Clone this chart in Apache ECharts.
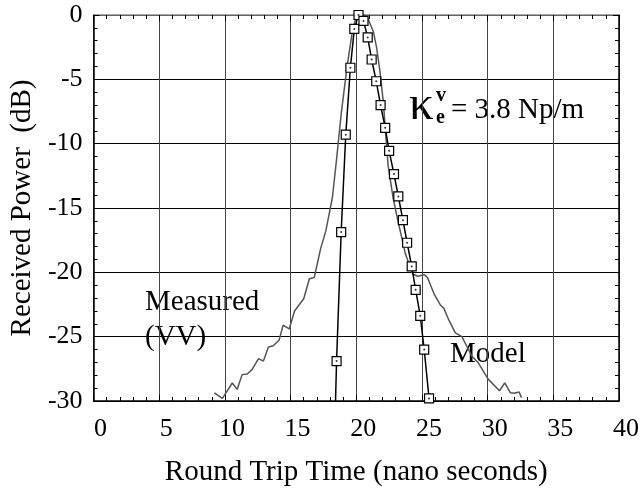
<!DOCTYPE html>
<html>
<head>
<meta charset="utf-8">
<script src="https://cdn.jsdelivr.net/npm/echarts@6/dist/echarts.min.js"></script>
<style>
html,body{margin:0;padding:0;background:#fff;}
#chart{width:642px;height:492px;}
</style>
</head>
<body>
<div id="chart"></div>
<script>
// ---- data ----
var xTicks = [0, 5, 10, 15, 20, 25, 30, 35, 40];
var yTicks = [0, -5, -10, -15, -20, -25, -30];
var xTitle = 'Round Trip Time (nano seconds)';
var yTitle = 'Received Power  (dB)';

// Measured (VV): [time ns, power dB]
var measuredT = [9.19, 9.81, 10.56, 10.93, 11.31, 11.7, 12.06, 12.56, 12.93, 13.31, 13.68, 14.13, 14.43, 14.9, 15.3, 16.0, 16.43, 16.8, 17.3, 17.68, 18.18, 18.5, 18.85, 19.3, 19.7, 19.95, 20.2, 20.6, 20.85, 21.3, 21.55, 21.8, 22.05, 22.42, 22.8, 23.17, 23.75, 24.3, 24.67, 25.17, 25.42, 25.92, 26.42, 26.67, 27.04, 27.54, 28.04, 28.79, 29.3, 30.04, 30.9, 31.3, 31.74, 32.03, 32.4, 32.58];
var measuredP = [-29.36, -29.8, -28.6, -29.1, -27.95, -27.9, -27.56, -26.7, -26.9, -25.8, -25.7, -25.26, -24.1, -24.4, -23.0, -22.05, -20.5, -20.4, -18.1, -16.8, -14.2, -11.2, -7.7, -4.0, -1.3, -0.3, 0, 0, -0.2, -1.28, -2.56, -4.36, -6.67, -11.67, -14.2, -16.0, -18.6, -20.13, -20.3, -20.18, -20.4, -21.67, -22.56, -22.8, -23.7, -24.7, -25.0, -26.5, -27.05, -28.3, -29.2, -28.6, -29.36, -29.4, -29.3, -29.74];

// Model: [time ns, power dB]; first point is the line end at the axis (no marker)
var modelT = [18.42, 18.5, 18.85, 19.2, 19.55, 19.85, 20.17, 20.55, 20.87, 21.17, 21.52, 21.85, 22.2, 22.5, 22.87, 23.2, 23.55, 23.87, 24.22, 24.52, 24.87, 25.17, 25.54];
var modelP = [-30, -26.9, -16.87, -9.3, -4.1, -1.08, 0, -0.46, -1.74, -3.46, -5.15, -7.0, -8.77, -10.56, -12.36, -14.1, -15.95, -17.7, -19.54, -21.36, -23.38, -26.0, -29.8];
var modelMarked = [false, true, true, true, true, true, true, true, true, true, true, true, true, true, true, true, true, true, true, true, true, true, true];

// ---- build ----
var FONT = 'Liberation Serif';
var measured = measuredT.map(function (t, i) { return [t, measuredP[i]]; });
var model = modelT.map(function (t, i) {
  return modelMarked[i] ? { value: [t, modelP[i]] } : { value: [t, modelP[i]], symbol: 'none' };
});
var modelDots = [];
modelT.forEach(function (t, i) { if (modelMarked[i]) modelDots.push([t, modelP[i]]); });

var chart = echarts.init(document.getElementById('chart'), null, { renderer: 'canvas' });

function baseAxis(extra) {
  var a = {
    type: 'value',
    axisLine: { show: true, onZero: false, lineStyle: { color: '#000', width: 1.5 } },
    axisTick: { show: true, inside: true, length: 6, lineStyle: { color: '#000', width: 1 } },
    minorTick: { show: true, splitNumber: 5, length: 4, lineStyle: { color: '#000', width: 1 } },
    splitLine: { show: false },
    axisLabel: { show: false }
  };
  for (var k in extra) a[k] = extra[k];
  return a;
}

var option = {
  animation: false,
  backgroundColor: '#fff',
  grid: { left: 89, right: 19, top: 15, bottom: 86, containLabel: false },
  xAxis: [
    baseAxis({
      position: 'bottom', min: xTicks[0], max: xTicks[xTicks.length - 1], interval: 5,
      splitLine: { show: true, lineStyle: { color: '#444', width: 1 } },
      axisLabel: { show: true, color: '#000', fontFamily: FONT, fontSize: 26, margin: 15, padding: [0, 0, 0, 14] },
      name: xTitle, nameLocation: 'middle', nameGap: 57,
      nameTextStyle: { color: '#000', fontFamily: FONT, fontSize: 29 }
    }),
    baseAxis({
      position: 'top', min: xTicks[0], max: xTicks[xTicks.length - 1], interval: 5,
      axisLine: { show: true, onZero: false, lineStyle: { color: '#888', width: 1.5 } }
    })
  ],
  yAxis: [
    baseAxis({
      position: 'left', min: yTicks[yTicks.length - 1], max: yTicks[0], interval: 5,
      splitLine: { show: true, lineStyle: { color: '#000', width: 1 } },
      axisLabel: { show: true, color: '#000', fontFamily: FONT, fontSize: 26, margin: 11, padding: [6, 0, 0, 0] },
      name: yTitle, nameLocation: 'middle', nameGap: 50, nameRotate: 90,
      nameTextStyle: { color: '#000', fontFamily: FONT, fontSize: 29 }
    }),
    baseAxis({
      position: 'right', min: yTicks[yTicks.length - 1], max: yTicks[0], interval: 5
    })
  ],
  series: [
    {
      name: 'Measured (VV)', type: 'line', xAxisIndex: 0, yAxisIndex: 0,
      data: measured, symbol: 'none', z: 3,
      lineStyle: { color: '#555', width: 1.5 }
    },
    {
      name: 'Model', type: 'line', xAxisIndex: 0, yAxisIndex: 0,
      data: model, symbol: 'rect', symbolSize: 9, z: 4,
      lineStyle: { color: '#000', width: 1.5 },
      itemStyle: { color: '#fff', borderColor: '#000', borderWidth: 1.2 }
    },
    {
      name: 'Model dots', type: 'scatter', xAxisIndex: 0, yAxisIndex: 0,
      data: modelDots, symbol: 'circle', symbolSize: 2, z: 5,
      itemStyle: { color: '#000' }
    }
  ],
  graphic: [
    { type: 'text', left: 145, top: 288, style: { text: 'Measured', font: '29px "Liberation Serif"', fill: '#000' } },
    { type: 'text', left: 145, top: 323, style: { text: '(VV)', font: '29px "Liberation Serif"', fill: '#000' } },
    { type: 'text', left: 450, top: 340, style: { text: 'Model', font: '29px "Liberation Serif"', fill: '#000' } },
    { type: 'text', left: 409, top: 82, style: { text: 'κ', font: '49px "Liberation Serif"', fill: '#000' } },
    { type: 'text', left: 436, top: 86, style: { text: 'v', font: 'bold 20px "Liberation Serif"', fill: '#000' } },
    { type: 'text', left: 436, top: 108, style: { text: 'e', font: 'bold 20px "Liberation Serif"', fill: '#000' } },
    { type: 'text', left: 451, top: 96, style: { text: '= 3.8 Np/m', font: '29px "Liberation Serif"', fill: '#000' } }
  ]
};
chart.setOption(option);
</script>
</body>
</html>
